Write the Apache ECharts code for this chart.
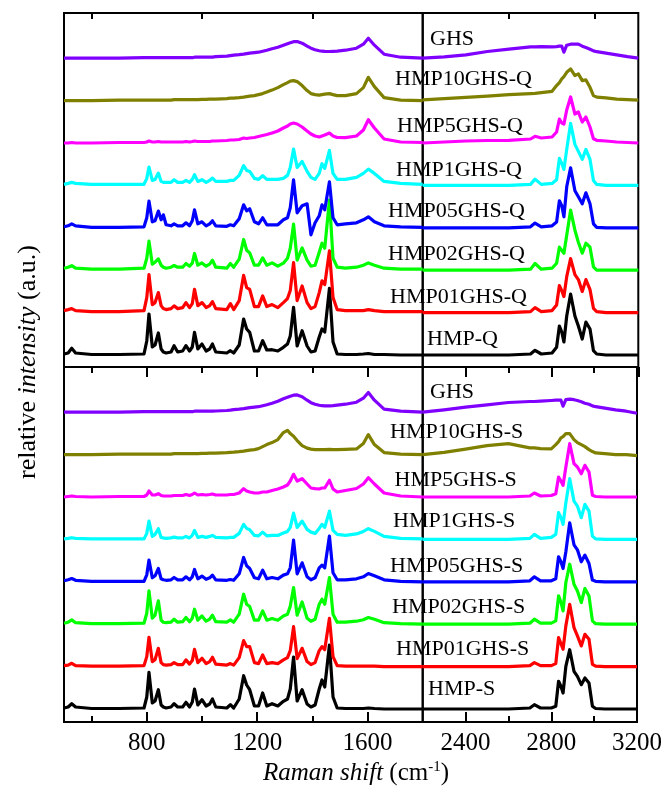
<!DOCTYPE html>
<html>
<head>
<meta charset="utf-8">
<script src="https://cdn.jsdelivr.net/npm/echarts@6/dist/echarts.min.js"></script>
<style>
  html, body { margin: 0; padding: 0; background: #fff; }
  #chart { width: 665px; height: 790px; }
</style>
</head>
<body>
<div id="chart"></div>
<script>
// wavenumbers (cm-1) for the low range 500-1800 and the high range 2200-3200
const xL = [500, 515, 528, 542, 600, 700, 790, 800, 808, 820, 830, 842, 852, 860, 870,
  888, 899, 912, 930, 942, 955, 965, 973, 985, 1000, 1015, 1028, 1038, 1050, 1090, 1103, 1115,
  1135, 1151, 1162, 1173, 1190, 1205, 1220, 1235, 1254, 1275, 1295, 1310, 1320, 1332, 1345, 1363,
  1381, 1395, 1410, 1425, 1435, 1445, 1462, 1475, 1490, 1520, 1560, 1585, 1603, 1625, 1660, 1720, 1800];
const xR = [2200, 2300, 2400, 2500, 2600, 2700, 2721, 2750, 2800, 2821, 2834, 2845, 2855, 2868,
  2886, 2906, 2922, 2940, 2957, 2976, 2992, 3007, 3050, 3100, 3150, 3200];

// top panel (-Q), heights above each baseline
const hmpQ_L = [1,2,6.7,2,0.5,0.5,1,14,41,8,10,22,6,3,2,3,9.3,3,4,9.3,4,8,22.7,6,11,4,6,11,3,2,4.3,2,10,36,26,22.7,4,4,14.3,5,5.3,4,7.7,11,19,47.7,9,24.3,9,3,4,18,26,23,66.7,13,1,0.5,0.5,1,1.5,0.5,0.5,0,0];
const hmp01Q_L = [2,3,4,2,1,1,2,15,38,8,10,20,7,4,3,4,6.7,4,5,10,5,9,23.3,7,10,5,7,11,4,3,9,3,12,37.3,25,23.3,6,6,16.7,6,8,5,10,14,22,50,12,26.7,10,4,6,20,31.7,28,61.7,15,3,2,2,2,3,2,1,1,1];
const hmp02Q_L = [2,3,4.5,2,1,1,2,12,29,6,8,11.3,5,3,2,3,4.7,3,3,6.7,4,7,16.7,5,7.3,4,6,10,3,2,6.7,3,11,30.7,20,17.3,5,5,12.3,5,7.3,4,7,12,22,46,10,22.3,10,4,5,18,27,22,70,12,3,2,3,5,7.3,5,2,1,1];
const hmp05Q_L = [1,2,4,2,0.5,0.5,1,10,26.7,6,7,16.7,8,13,3,2,4,2,2,5,2,7,18,4,6,2,4,7,2,1.5,3,2,9,23,17,19,6,4,10,3,3,3,8,10,20,48,15,22,24,-7,5,12,23,18,46,10,3,4,5,8,11,6,2,1,0.5];
const hmp1Q_L = [1,2,3,2,1,1,1,7,18.3,5,6,12.3,4,3,3,3,5.7,3,3,5,3,6,10.7,4,5.7,3,5,7.3,4,4,5,5,10,19.7,15,14,7,6,9.7,6,6,6,7,10,18,36.3,18,24,14,8,6,12,21.7,17,35,12,6,6,8,12,16.3,12,4,2,1];
const hmp5Q_L = [0,0,0.5,0,0,0.5,0.5,1,2,1,1,1.5,1,1,1,1,1,1,1,1.5,1,1.5,2,1.5,1.5,1.5,1.5,2,2,2.5,3,3,3.5,5,4.5,5,5.5,6.5,7.5,8.5,10,12,15,17,19,20,19,16,12,9,7,6,7,8,10,7,5.5,5.3,7,13,23.3,15,4,1,0.5];
const hmp10Q_L = [0,0,0,0,0,0.5,0.5,0.5,0.5,0.5,0.5,0.5,0.5,0.5,0.5,0.5,1,1,1,1,1,1,1,1,1.2,1.2,1.5,1.5,1.5,2,2.5,2.5,3,3.5,4,4.5,5,6,7,8.5,10.5,13,16,18,19.5,20,19,15,10,7,6,5.5,6,6.5,7,6,5,5,7,13,23.3,14,3,0.5,0];
const ghsQ_L = [0,0,0,0,0,0,0.5,0.5,0.5,0.5,0.5,0.5,0.5,0.5,0.5,0.5,0.5,0.5,0.5,0.5,0.5,0.5,1,1,1,1,1,1,1.5,2,2.5,3,3.5,4,4.5,5,5.5,6,7,8,9.5,11,13,14.5,15.5,16.5,16.7,15,12,10,8.5,7.5,7,6.8,6.7,6.8,7,8,10,14,20,13,4,1,0];

const hmpQ_R = [0,0,0,0,0,1,4.7,1,2,7.7,29,23,13,39,61,39,29,16,33,26,4.3,1,0,0,0,0];
const hmp01Q_R = [0,0,0,0,0,1,5,1,2,7.7,27,22,16,36,54,38,33,21,33,23,4.3,1,0,0,0,0];
const hmp02Q_R = [0,0,0,0,0,1,6.7,1,2,7,23,20,17,35,60,40,28,17,27,23,3.3,0,0,0,0,0];
const hmp05Q_R = [0,0,0,0,0,1,4.7,1,2,5.7,27,22,11,41,60,37,31,24,35,24,4,0.5,0,0,0,0];
const hmp1Q_R = [0,0,0,0,0,1,6.3,1,2,5.7,27,22,16,36,62,41,34,26,36,26,5,1,0,0,0,0];
const hmp5Q_R = [0,1,2,2.5,2.7,4,6.7,5,6,11,24,20,19,33,46,29,31,21,26,16,4.3,2.7,2,1,0.5,0];
const hmp10Q_R = [0.7,2,3.3,4.5,6,7,7.3,8,9.3,15,18,21.7,24,28.3,31.7,25,26.7,20,20.7,13.3,5,3.5,2.7,1.5,1,0.5];
const ghsQ_R = [0,1.3,3.3,6.7,9,11.3,11.3,11.5,11.3,11.5,12,12,6,13,14,14,14,12,10.7,9,7.3,6.5,5,3.3,1.5,0];

// bottom panel (-S)
const hmpS_L = [1,2,5.3,2,0.5,0.5,1,12,36.7,6,8,19.3,4,2,1,2,5.3,2,2,6.7,2,7,20,4,9.3,3,5,10,2,1,4.3,1,10,33.3,24,19.3,3,3,16,3,5.3,3,7.7,10,20,52,8,19.3,5,2,4,20,29,22,64,12,1,0.5,0.5,0.5,1,0.5,0,0,0];
const hmp01S_L = [1,1.5,3.3,1,0.5,0.5,1,10,29.3,5,7,18.3,4,2,1.5,2,4,2,2,6.7,2.5,6,17.3,4,8.3,3,5,9.3,2.5,1.5,3,1.5,9,26,20,20,4,3,11.7,3,4,3,6.7,9,16,40,8,18.3,5,2,4,16,20,17,48.3,10,1,0.5,0.5,0.5,0.5,0.5,0,0,0];
const hmp02S_L = [1,2,4.3,1.5,0.5,0.5,1,11,33.3,6,9,23.3,4,2,1.5,2,5,2,2.5,6.7,2.5,6,15,4,8.3,3,5,9,2.5,2,4.3,2,10,30,20,17.7,4,4,13.3,4,5.7,4,8.3,10,18,36.7,9,22.3,6,3,5,20,25,20,46.7,10,2,2,3,4.5,6.7,5,1.5,0.5,0];
const hmp05S_L = [1,2,3.3,1.5,0.5,0.5,0.5,7,21.7,4,6,13.3,3,2,1.5,2,4.3,2,2,5,2,5,12.3,3,5.7,2.5,4,6.7,2,1.5,2.3,1.5,8,24.3,16,13.3,4,3,11.7,3,4.3,3,6.7,8,14,41.7,8,19,5,2,4,14,16.7,14,45.7,9,2,2,3,5,8.3,6,2,0.5,0];
const hmp1S_L = [0.5,1,1.7,1,0.5,0.5,0.5,6,18.3,3,5,10.7,2,1.5,1,1.5,2.3,1.5,1.5,3,1.5,4,9,2,3,2,3,4,2,1.5,2,2,6,15,11,9.7,4,3.5,7.3,3.5,4,4,6.3,8,12,26.3,12,18.3,10,7.3,6,11,15,12,28.3,9,5,4,5.5,8,10.7,8,3,1,0.5];
const hmp5S_L = [0,0.5,1,0.5,0,0.5,0.5,2,6,2,2,3.3,1.5,1,1,1,1.5,1.5,1.5,2.5,1.5,2.5,4,2,2.5,2,2.5,3,2,2,2.5,2.5,4,8.3,6,5,4,4,5,5,6.5,8,10,12,16,22.7,16,18.3,13,9,8.3,8,9,9,16.7,8,5,6.5,8.5,13,19.3,13,4,1,0];
const hmp10S_L = [0,0,0,0,0,0.5,0.5,0.5,0.5,0.5,0.5,0.5,0.5,0.5,0.5,0.5,1,1,1,1,1,1,1,1,1.2,1.2,1.5,1.5,1.5,2,2.3,2.5,3,3.5,4,4.5,5,6,8,10,12,15,22,24.3,21,18.3,14,9,6.5,5.5,5,5,5,5,5.2,5,5,5.2,5.7,11,20,10,2,0.5,0];
const ghsS_L = [0,0,0,0,0,0,0.5,0.5,0.5,0.5,0.5,0.5,0.5,0.5,0.5,0.5,0.5,0.5,0.5,0.5,0.5,0.5,1,1,1,1,1,1,1.2,1.7,2,2.5,3,3.5,4,4.5,5,5.5,6.5,7.5,9,11,13.5,15,16,17,17.3,15.5,12,9.5,8,7,6.5,6.3,6.3,6.5,7,8,10,14,19.7,12,3,1,0];

const hmpS_R = [0,0,0,0,0,1,4.3,1,1,2.7,27.7,22.7,16,42.7,59.3,37.7,32.7,24.3,31,26,2.7,0.5,0,0,0,0];
const hmp01S_R = [0,0,0,0,0,1,4,1,1,3,29,23,17.3,40.7,62.3,39,30.7,20.7,32.3,27.3,2.3,0.5,0,0,0,0];
const hmp02S_R = [0,0,0,0,0,1,5,1,1,3.3,28.3,22,13.3,41.7,60,40,33.3,21.7,35.7,28.3,3.3,0.5,0,0,0,0];
const hmp05S_R = [0,0,0,0,0,1,5,1,1,3,25,20,13.3,30,59,37,32,20,26.7,18.3,1.7,0.5,0,0,0,0];
const hmp1S_R = [0,0,0,0,0,1,5,1,2,5,26.7,22,15,36.7,60.7,38.3,33.3,21.7,35,28.3,3.3,0.5,0,0,0,0];
const hmp5S_R = [0,0,0,0,0,1,4,1,1.5,3.3,20,16,11.7,30,53.3,33.3,30,23.3,31.7,25,1.7,0.5,0,0,0,0];
const hmp10S_R = [0,2.3,5.5,9,11,6.7,6.7,6,5.7,10,13,16.7,18,21,21,15,12,10,8,5,3,1.7,1,0,0,-1];
const ghsS_R = [0,2.3,5,7.3,9.7,10.7,10.7,11,11.7,12,12,12,6,12.5,13,12.5,11.7,10.5,9,8,6.3,5.5,4,2.3,1,-1];

// bottom-to-top order in each panel
const namesQ = ['HMP-Q', 'HMP01GHS-Q', 'HMP02GHS-Q', 'HMP05GHS-Q', 'HMP1GHS-Q', 'HMP5GHS-Q', 'HMP10GHS-Q', 'GHS'];
const namesS = ['HMP-S', 'HMP01GHS-S', 'HMP02GHS-S', 'HMP05GHS-S', 'HMP1GHS-S', 'HMP5GHS-S', 'HMP10GHS-S', 'GHS'];
const specQ_L = [hmpQ_L, hmp01Q_L, hmp02Q_L, hmp05Q_L, hmp1Q_L, hmp5Q_L, hmp10Q_L, ghsQ_L];
const specQ_R = [hmpQ_R, hmp01Q_R, hmp02Q_R, hmp05Q_R, hmp1Q_R, hmp5Q_R, hmp10Q_R, ghsQ_R];
const specS_L = [hmpS_L, hmp01S_L, hmp02S_L, hmp05S_L, hmp1S_L, hmp5S_L, hmp10S_L, ghsS_L];
const specS_R = [hmpS_R, hmp01S_R, hmp02S_R, hmp05S_R, hmp1S_R, hmp5S_R, hmp10S_R, ghsS_R];

const colors = ['#000000', '#ff0000', '#00ff00', '#0000ff', '#00ffff', '#ff00ff', '#808000', '#8000ff'];
const ticksL = [800, 1200, 1600];
const minorL = [600, 1000, 1400];
const ticksR = [2400, 2800, 3200];
const minorR = [2600, 3000];

const serif = '"Liberation Serif", "Times New Roman", serif';
const step = 42.4; // vertical offset between stacked spectra

// layout (px)
const xa = 64, xb = 422.7, xc = 638.3;
const y0 = 13, y1 = 367, y2 = 722;

let chart = echarts.init(document.getElementById('chart'), null, { renderer: 'canvas' });

function gridOf(left, right, top, bottom) {
    return {
        left: left, top: top, width: right - left, height: bottom - top,
        show: true, borderColor: '#000', borderWidth: 2, backgroundColor: 'transparent'
    };
}

function xAx(grid, min, max, pos, ticks, len, labels) {
    return {
        type: 'value', gridIndex: grid, min: min, max: max, position: pos,
        axisLine: { show: false },
        splitLine: { show: false },
        axisTick: { show: true, inside: true, length: len, customValues: ticks, lineStyle: { color: '#000', width: 2 } },
        axisLabel: labels ? {
            show: true, customValues: ticks, margin: 9, color: '#000',
            fontFamily: serif, fontSize: 25,
            formatter: v => String(v)
        } : { show: false }
    };
}

const xAxes = [
    // 0,1 top-left
    xAx(0, 500, 1800, 'top', ticksL, 10, false),
    xAx(0, 500, 1800, 'top', minorL, 6, false),
    // 2,3 top-right
    xAx(1, 2200, 3200, 'top', ticksR, 10, false),
    xAx(1, 2200, 3200, 'top', minorR, 6, false),
    // 4..7 bottom-left
    xAx(2, 500, 1800, 'bottom', ticksL, 10, true),
    xAx(2, 500, 1800, 'bottom', minorL, 6, false),
    xAx(2, 500, 1800, 'top', ticksL, 10, false),
    xAx(2, 500, 1800, 'top', minorL, 6, false),
    // 8..11 bottom-right
    xAx(3, 2200, 3200, 'bottom', ticksR, 10, true),
    xAx(3, 2200, 3200, 'bottom', minorR, 6, false),
    xAx(3, 2200, 3200, 'top', ticksR, 10, false),
    xAx(3, 2200, 3200, 'top', minorR, 6, false)
];

const yAxes = [0, 1, 2, 3].map(g => ({
    type: 'value', gridIndex: g, min: 0, max: g < 2 ? y1 - y0 : y2 - y1, show: false
}));

let series = [];
function addSet(specs, xs, xIdx, yIdx, base) {
    specs.forEach((vals, k) => {
        series.push({
            type: 'line', xAxisIndex: xIdx, yAxisIndex: yIdx,
            showSymbol: false, symbol: 'none', silent: true, clip: false,
            lineStyle: { color: colors[k], width: 3.2, join: 'round' },
            data: xs.map((x, i) => [x, vals[i] + base + k * step])
        });
    });
}
addSet(specQ_L, xL, 0, 0, 12);
addSet(specQ_R, xR, 2, 1, 12);
addSet(specS_L, xL, 4, 2, 13);
addSet(specS_R, xR, 8, 3, 13);

// spectrum labels: left x, vertical centre of capitals
const labelPosQ = [[427, 339], [390, 297.5], [388, 254], [388, 211], [396, 170], [397, 126], [395, 79], [430, 39]];
const labelPosS = [[428, 689], [396, 649], [392, 607.5], [390, 566], [393, 521], [394.5, 480], [390, 432.5], [430, 392.5]];

let graphics = [];
namesQ.concat(namesS).forEach((name, i) => {
    const p = i < 8 ? labelPosQ[i] : labelPosS[i - 8];
    graphics.push({
        type: 'text', x: p[0], y: p[1], z: 100,
        style: { text: name, fill: '#000', font: '22px ' + serif, align: 'left', verticalAlign: 'middle' }
    });
});
graphics.push({
    type: 'text', x: 28, y: 362, rotation: Math.PI / 2, z: 100,
    style: {
        text: '{n|relative }{i|intensity}{n| (a.u.)}',
        align: 'center', verticalAlign: 'middle',
        rich: {
            n: { fontFamily: serif, fontSize: 26, fill: '#000' },
            i: { fontFamily: serif, fontSize: 26, fontStyle: 'italic', fill: '#000' }
        }
    }
});
graphics.push({
    type: 'text', x: 356, y: 773, z: 100,
    style: {
        text: '{i|Raman shift}{n| (cm}{s|-1}{n|)}',
        align: 'center', verticalAlign: 'middle',
        rich: {
            n: { fontFamily: serif, fontSize: 25, fill: '#000', lineHeight: 27 },
            i: { fontFamily: serif, fontSize: 25, fontStyle: 'italic', fill: '#000', lineHeight: 27 },
            s: { fontFamily: serif, fontSize: 15, fill: '#000', verticalAlign: 'top', lineHeight: 27 }
        }
    }
});

let option = {
    animation: false,
    backgroundColor: '#fff',
    grid: [gridOf(xa, xb, y0, y1), gridOf(xb, xc, y0, y1), gridOf(xa, xb, y1, y2), gridOf(xb, xc, y1, y2)],
    xAxis: xAxes,
    yAxis: yAxes,
    series: series,
    graphic: graphics
};
chart.setOption(option);
</script>
</body>
</html>
